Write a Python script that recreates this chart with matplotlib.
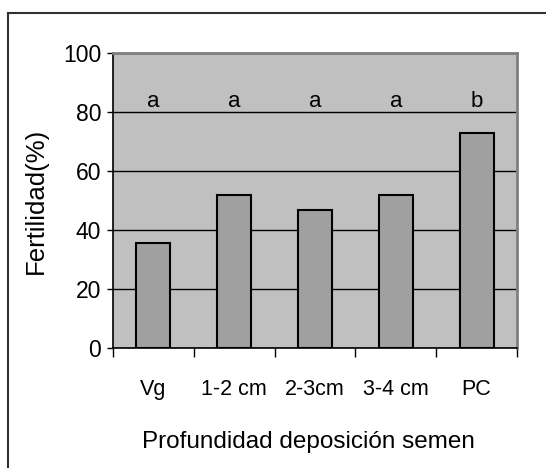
import matplotlib
matplotlib.use("Agg")
import matplotlib.pyplot as plt
from matplotlib.lines import Line2D
import numpy as np

categories = ["Vg", "1-2 cm", "2-3cm", "3-4 cm", "PC"]
fertilidad = [35.5, 52.0, 46.8, 51.8, 73.0]
letras = ["a", "a", "a", "a", "b"]
yticks = [0, 20, 40, 60, 80, 100]

plt.rcParams['font.family'] = ['Liberation Sans', 'DejaVu Sans']

fig = plt.figure(figsize=(5.46, 4.68), dpi=100)
ax = fig.add_axes([113/546, 1-348/468, (517-113)/546, (348-53)/468])
ax.set_facecolor("#C0C0C0")

x = np.arange(len(categories))
ax.set_axisbelow(True)
ax.yaxis.grid(True, color="#000000", linewidth=1.0)
ax.bar(x, fertilidad, width=0.42, color="#A0A0A0", edgecolor="#000000", linewidth=1.5, zorder=3)

for xi, t in zip(x, letras):
    ax.text(xi, 81.8, t, ha="center", va="baseline", fontsize=16, zorder=4)

ax.set_xlim(-0.5, len(categories) - 0.5)
ax.set_ylim(0, 100)
ax.set_yticks(yticks)
ax.set_yticklabels([str(v) for v in yticks], fontsize=16.5)
ax.tick_params(axis="y", direction="out", length=4.5, width=1, pad=4)

ax.set_xticks(x)
ax.set_xticklabels(categories, fontsize=15.5)
ax.tick_params(axis="x", which="major", length=0, pad=22)
ax.set_xticks(np.arange(-0.5, len(categories)), minor=True)
ax.tick_params(axis="x", which="minor", direction="out", length=6.5, width=1, color="#000000")

for s in ["top", "right"]:
    ax.spines[s].set_color("#808080")
    ax.spines[s].set_linewidth(2)
ax.spines["left"].set_color("#000000")
ax.spines["bottom"].set_color("#000000")
ax.spines["left"].set_linewidth(1.2)
ax.spines["bottom"].set_linewidth(1.2)

ax.set_ylabel("Fertilidad(%)", fontsize=18.5)
ax.yaxis.set_label_coords(-(113-48)/404, 0.5)
ax.set_xlabel("Profundidad deposición semen", fontsize=17.5)
ax.xaxis.set_label_coords((308-113)/404, -(442-348)/295)
ax.xaxis.label.set_va("center")

# figure border (top and left visible)
fig.add_artist(Line2D([7.5/546, 7.5/546], [0, 1-13/468], transform=fig.transFigure, color="#303030", linewidth=1.5))
fig.add_artist(Line2D([7.5/546, 1], [1-13/468, 1-13/468], transform=fig.transFigure, color="#303030", linewidth=1.5))

fig.savefig("out.png", dpi=100)
